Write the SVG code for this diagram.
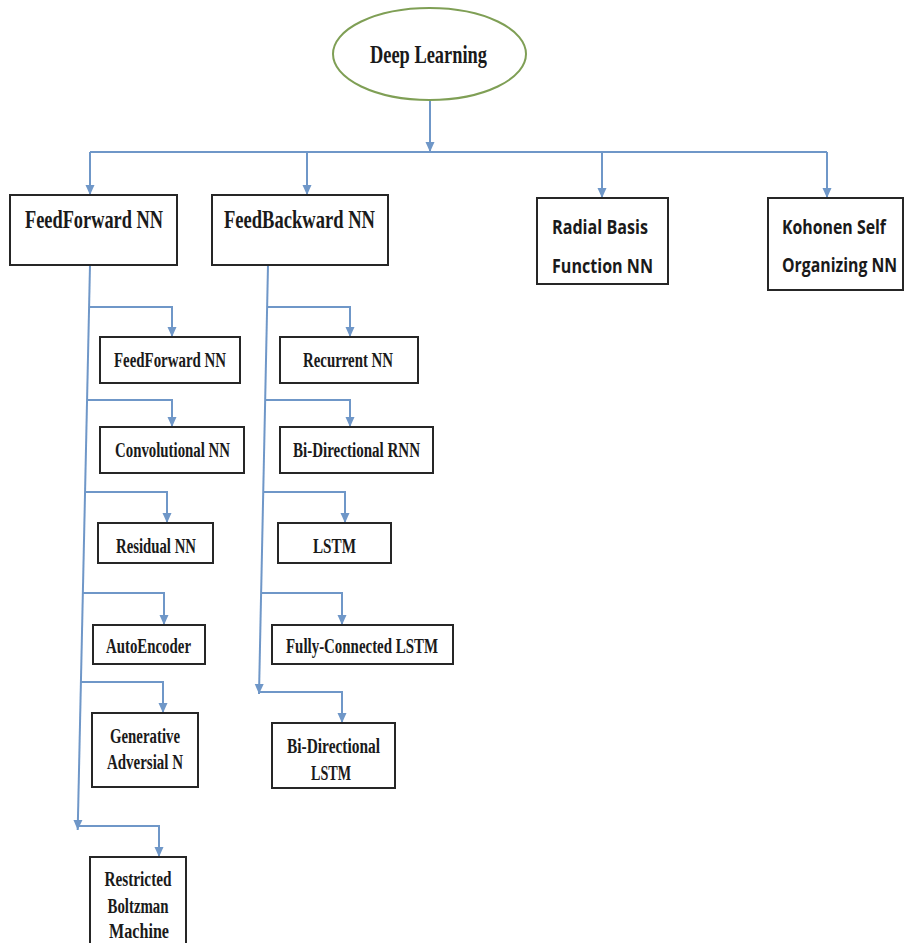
<svg xmlns="http://www.w3.org/2000/svg" width="904" height="943" viewBox="0 0 904 943">
<style>
.box{fill:#fff;stroke:#262626;stroke-width:2}
.t{font-family:"Liberation Serif","Times New Roman",serif;font-weight:bold;fill:#1a1a1a;text-anchor:middle}
.big{font-size:25px}
.sm{font-size:20px}
.c{font-family:"Open Sans","Noto Sans","Liberation Sans",sans-serif;font-weight:bold;font-size:20px;fill:#1a1a1a}
.ln{fill:none;stroke:#6f97c8;stroke-width:2}
</style>
<defs>
<marker id="ah" markerUnits="userSpaceOnUse" markerWidth="10" markerHeight="10" refX="10" refY="5" orient="auto" viewBox="0 0 10 10">
<path d="M0,0.5 L10,5 L0,9.5 z" fill="#6f97c8"/>
</marker>
</defs>
<g id="connectors">
<path class="ln" d="M430,100 V152" marker-end="url(#ah)"/>
<path class="ln" d="M90,152 H827"/>
<path class="ln" d="M90,152 V195" marker-end="url(#ah)"/>
<path class="ln" d="M307,152 V195" marker-end="url(#ah)"/>
<path class="ln" d="M602,152 V198" marker-end="url(#ah)"/>
<path class="ln" d="M827,152 V198" marker-end="url(#ah)"/>
<path class="ln" d="M90,265 L77.7,830" marker-end="url(#ah)"/>
<path class="ln" d="M89,307 H172 V337" marker-end="url(#ah)"/>
<path class="ln" d="M87,400 H172 V427" marker-end="url(#ah)"/>
<path class="ln" d="M85,492 H167 V523" marker-end="url(#ah)"/>
<path class="ln" d="M82.5,593 H164 V625" marker-end="url(#ah)"/>
<path class="ln" d="M80.4,682 H163 V713" marker-end="url(#ah)"/>
<path class="ln" d="M78,826 H159 V857" marker-end="url(#ah)"/>
<path class="ln" d="M268,265 L259,694" marker-end="url(#ah)"/>
<path class="ln" d="M267,307 H350 V337" marker-end="url(#ah)"/>
<path class="ln" d="M265,400 H350 V427" marker-end="url(#ah)"/>
<path class="ln" d="M263,492 H345 V523" marker-end="url(#ah)"/>
<path class="ln" d="M261,593 H342 V625" marker-end="url(#ah)"/>
<path class="ln" d="M259,692 H342 V723" marker-end="url(#ah)"/>
</g>
<g id="deep-learning">
<ellipse cx="429.5" cy="54" rx="96.5" ry="46" fill="#fff" stroke="#7f9f55" stroke-width="2"/>
<text class="t big" x="428.5" y="63" textLength="117" lengthAdjust="spacingAndGlyphs">Deep Learning</text>
</g>
<g id="feedforward">
<rect class="box" x="10" y="195" width="167" height="70"/>
<text class="t big" x="94" y="228" textLength="138" lengthAdjust="spacingAndGlyphs">FeedForward NN</text>
</g>
<g id="feedbackward">
<rect class="box" x="212" y="195" width="176" height="70"/>
<text class="t big" x="299.5" y="228" textLength="151" lengthAdjust="spacingAndGlyphs">FeedBackward NN</text>
</g>
<g id="radial-basis">
<rect class="box" x="537" y="198" width="131" height="86"/>
<text class="c" x="552" y="234" textLength="96" lengthAdjust="spacingAndGlyphs">Radial Basis</text>
<text class="c" x="552" y="273" textLength="101" lengthAdjust="spacingAndGlyphs">Function NN</text>
</g>
<g id="kohonen">
<rect class="box" x="768" y="198" width="135" height="92"/>
<text class="c" transform="translate(782,234) scale(0.8,1)" x="0" y="0" textLength="130" lengthAdjust="spacingAndGlyphs">Kohonen Self</text>
<text class="c" transform="translate(782,272) scale(0.8,1)" x="0" y="0" textLength="144" lengthAdjust="spacingAndGlyphs">Organizing NN</text>
</g>
<g id="ff-feedforward">
<rect class="box" x="100" y="337" width="140" height="46"/>
<text class="t sm" x="170" y="367" textLength="112" lengthAdjust="spacingAndGlyphs">FeedForward NN</text>
</g>
<g id="ff-convolutional">
<rect class="box" x="100" y="427" width="144" height="46"/>
<text class="t sm" x="172.5" y="457" textLength="115" lengthAdjust="spacingAndGlyphs">Convolutional NN</text>
</g>
<g id="ff-residual">
<rect class="box" x="98" y="523" width="115" height="40"/>
<text class="t sm" x="156" y="553" textLength="80" lengthAdjust="spacingAndGlyphs">Residual NN</text>
</g>
<g id="ff-autoencoder">
<rect class="box" x="93" y="625" width="112" height="39"/>
<text class="t sm" x="148.5" y="653" textLength="85" lengthAdjust="spacingAndGlyphs">AutoEncoder</text>
</g>
<g id="ff-gan">
<rect class="box" x="92" y="713" width="106" height="74"/>
<text class="t sm" x="145" y="743" textLength="70" lengthAdjust="spacingAndGlyphs">Generative</text>
<text class="t sm" x="145" y="769" textLength="76" lengthAdjust="spacingAndGlyphs">Adversial N</text>
</g>
<g id="ff-rbm">
<rect class="box" x="90" y="857" width="96" height="100"/>
<text class="t sm" x="138" y="886" textLength="67" lengthAdjust="spacingAndGlyphs">Restricted</text>
<text class="t sm" x="138" y="913" textLength="61" lengthAdjust="spacingAndGlyphs">Boltzman</text>
<text class="t sm" x="139" y="938" textLength="60" lengthAdjust="spacingAndGlyphs">Machine</text>
</g>
<g id="fb-recurrent">
<rect class="box" x="280" y="337" width="138" height="46"/>
<text class="t sm" x="348" y="367" textLength="90" lengthAdjust="spacingAndGlyphs">Recurrent NN</text>
</g>
<g id="fb-birnn">
<rect class="box" x="280" y="427" width="153" height="46"/>
<text class="t sm" x="356.5" y="457" textLength="127" lengthAdjust="spacingAndGlyphs">Bi-Directional RNN</text>
</g>
<g id="fb-lstm">
<rect class="box" x="278" y="523" width="113" height="40"/>
<text class="t sm" x="334.5" y="553" textLength="43" lengthAdjust="spacingAndGlyphs">LSTM</text>
</g>
<g id="fb-fclstm">
<rect class="box" x="272" y="625" width="181" height="39"/>
<text class="t sm" x="362" y="653" textLength="152" lengthAdjust="spacingAndGlyphs">Fully-Connected LSTM</text>
</g>
<g id="fb-bilstm">
<rect class="box" x="272" y="723" width="123" height="65"/>
<text class="t sm" x="333.5" y="753" textLength="93" lengthAdjust="spacingAndGlyphs">Bi-Directional</text>
<text class="t sm" x="331" y="780" textLength="40" lengthAdjust="spacingAndGlyphs">LSTM</text>
</g>
</svg>
